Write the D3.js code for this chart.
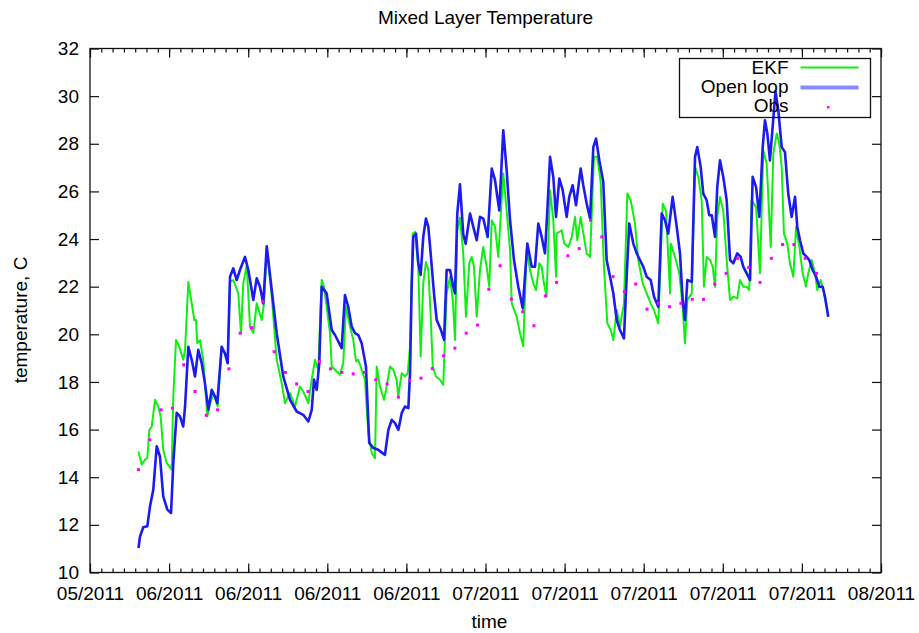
<!DOCTYPE html>
<html>
<head>
<meta charset="utf-8">
<script src="https://cdn.jsdelivr.net/npm/d3@7"></script>
<style>
  body { margin: 0; background: #fff; }
  text { font-family: "Liberation Sans", Arial, sans-serif; fill: #000; }
</style>
</head>
<body>
<div id="chart"></div>
<script>
// axis runs 70 days, weekly labelled ticks and daily minor ticks
const axisStart = new Date(Date.UTC(2011, 4, 27, 17));
const axisDays = 70;
const obsStart = new Date(Date.UTC(2011, 5, 1));

// [days after obsStart, temperature C]
const ekf = [
  [0.00, 15.08], [0.28, 14.53], [0.58, 14.74], [0.78, 14.80], [0.96, 15.99], [1.17, 16.13],
  [1.46, 17.25], [1.75, 16.97], [1.96, 16.55], [2.19, 15.15], [2.50, 14.60], [2.94, 14.32],
  [3.08, 17.39], [3.32, 19.76], [3.61, 19.48], [3.96, 18.93], [4.12, 19.35], [4.41, 22.20],
  [4.71, 21.30], [4.94, 20.60], [5.09, 20.60], [5.20, 19.63], [5.44, 19.76], [5.73, 18.93],
  [6.09, 16.55], [6.27, 16.97], [6.62, 17.53], [7.01, 16.97], [7.36, 19.48], [7.65, 19.20],
  [7.89, 18.79], [8.10, 22.20], [8.39, 22.28], [8.83, 21.72], [9.07, 20.05], [9.27, 22.14],
  [9.58, 22.90], [9.87, 20.32], [10.16, 20.05], [10.46, 21.30], [10.90, 20.60], [11.11, 21.30],
  [11.35, 23.60], [11.79, 21.60], [12.23, 18.93], [12.67, 17.95], [12.96, 17.11], [13.41, 17.53],
  [13.85, 16.97], [14.29, 17.81], [14.58, 17.60], [15.03, 17.11], [15.33, 18.10], [15.62, 18.93],
  [15.91, 18.51], [16.21, 22.28], [16.42, 22.00], [16.95, 20.05], [17.10, 18.65], [17.39, 18.51],
  [17.83, 18.30], [18.12, 18.79], [18.36, 21.16], [18.72, 20.32], [19.01, 19.76], [19.25, 18.86],
  [19.45, 18.93], [19.75, 18.51], [20.04, 18.09], [20.34, 15.85], [20.64, 15.01], [20.93, 14.80],
  [21.08, 18.65], [21.37, 17.81], [21.73, 17.25], [21.96, 17.81], [22.26, 18.65], [22.55, 18.51],
  [22.85, 18.09], [22.99, 17.39], [23.29, 18.37], [23.58, 18.23], [23.82, 18.37], [24.03, 19.50],
  [24.27, 24.23], [24.47, 24.30], [24.76, 22.84], [24.97, 19.07], [25.20, 22.14], [25.44, 23.04],
  [25.65, 22.70], [25.86, 20.74], [26.04, 18.65], [26.33, 18.23], [26.68, 18.09], [26.97, 17.88],
  [27.27, 21.72], [27.57, 22.42], [27.81, 21.44], [28.01, 19.76], [28.21, 24.37], [28.45, 24.90],
  [28.74, 23.40], [28.98, 20.74], [29.27, 22.98], [29.49, 23.25], [29.69, 22.84], [29.93, 20.74],
  [30.22, 22.70], [30.51, 23.67], [30.81, 22.84], [31.04, 22.00], [31.26, 24.79], [31.55, 24.51],
  [31.84, 23.25], [32.28, 26.75], [32.58, 25.20], [32.88, 23.54], [33.03, 21.30], [33.47, 20.74],
  [33.76, 20.05], [34.05, 19.50], [34.35, 23.54], [34.65, 22.70], [34.94, 22.14], [35.18, 21.86],
  [35.47, 22.98], [35.68, 22.84], [35.88, 22.14], [36.12, 21.58], [36.42, 26.05], [36.71, 24.79],
  [36.95, 22.42], [37.01, 24.23], [37.45, 24.37], [37.68, 23.81], [38.04, 23.67], [38.34, 24.09],
  [38.63, 24.93], [38.83, 23.95], [39.13, 24.93], [39.42, 24.09], [39.66, 23.40], [39.96, 23.25],
  [40.31, 27.45], [40.60, 27.45], [40.90, 26.40], [41.19, 22.84], [41.49, 20.46], [41.79, 20.18],
  [42.02, 19.76], [42.32, 21.02], [42.61, 20.32], [42.96, 21.30], [43.26, 25.91], [43.56, 25.63],
  [43.94, 24.65], [44.23, 23.12], [44.62, 22.14], [44.97, 21.72], [45.33, 21.30], [45.62, 21.02],
  [46.00, 20.46], [46.39, 25.49], [46.68, 25.20], [47.04, 21.72], [47.10, 23.81], [47.48, 23.25],
  [47.86, 22.56], [48.16, 21.16], [48.36, 19.63], [48.57, 21.44], [48.96, 21.72], [49.25, 27.03],
  [49.54, 26.61], [49.84, 25.63], [50.04, 22.00], [50.28, 23.25], [50.58, 23.12], [50.81, 22.84],
  [51.02, 22.00], [51.22, 24.93], [51.46, 25.77], [51.75, 25.20], [52.05, 23.12], [52.35, 21.44],
  [52.64, 21.58], [52.99, 21.51], [53.23, 22.28], [53.52, 22.00], [53.82, 22.00], [54.05, 21.86],
  [54.26, 25.63], [54.65, 25.35], [55.00, 22.56], [55.29, 27.73], [55.59, 27.17], [55.95, 23.67],
  [56.18, 27.59], [56.48, 28.43], [56.71, 28.01], [56.92, 27.03], [57.12, 24.23], [57.42, 23.81],
  [57.65, 22.98], [57.95, 22.42], [58.19, 24.51], [58.48, 23.67], [58.78, 22.56], [59.07, 22.00],
  [59.27, 22.56], [59.57, 23.12], [59.87, 22.56], [60.07, 21.86], [60.37, 22.28], [60.66, 21.72],
  [60.90, 21.16], [61.04, 20.74]
];

const openLoop = [
  [0.00, 11.03], [0.13, 11.50], [0.42, 11.90], [0.78, 11.94], [1.02, 12.78], [1.31, 13.48],
  [1.61, 15.30], [1.90, 14.87], [2.19, 13.20], [2.55, 12.64], [2.88, 12.50], [3.08, 14.60],
  [3.38, 16.70], [3.67, 16.55], [3.96, 16.13], [4.12, 16.97], [4.41, 19.48], [4.71, 18.93],
  [5.00, 18.23], [5.29, 19.35], [5.59, 18.79], [5.88, 17.95], [6.18, 16.83], [6.48, 17.67],
  [6.77, 17.39], [6.97, 17.11], [7.36, 19.48], [7.65, 19.20], [7.89, 18.79], [8.10, 22.42],
  [8.39, 22.77], [8.69, 22.28], [8.98, 22.70], [9.42, 23.25], [9.72, 22.70], [10.16, 21.44],
  [10.46, 22.35], [10.75, 22.00], [11.04, 21.30], [11.35, 23.70], [11.79, 21.86], [12.23, 20.05],
  [12.81, 18.23], [13.41, 17.25], [14.00, 16.76], [14.58, 16.62], [15.03, 16.34], [15.33, 16.83],
  [15.53, 18.10], [15.77, 17.67], [16.00, 18.79], [16.21, 22.00], [16.65, 21.72], [17.10, 20.18],
  [17.39, 19.97], [17.98, 19.42], [18.27, 21.65], [18.56, 21.16], [18.87, 20.32], [19.16, 20.05],
  [19.45, 19.97], [19.75, 19.63], [20.13, 18.65], [20.42, 15.44], [20.78, 15.23], [21.22, 15.15],
  [21.81, 14.94], [22.11, 15.99], [22.41, 16.41], [22.70, 16.27], [23.00, 15.99], [23.29, 16.69],
  [23.58, 16.97], [23.88, 16.90], [24.03, 18.37], [24.18, 22.14], [24.32, 24.09], [24.56, 24.23],
  [24.76, 22.98], [24.97, 22.49], [25.20, 24.09], [25.44, 24.86], [25.65, 24.51], [25.88, 23.25],
  [26.15, 21.72], [26.39, 20.60], [26.77, 20.18], [27.04, 19.77], [27.27, 22.70], [27.57, 22.70],
  [27.86, 22.00], [28.01, 21.72], [28.21, 25.07], [28.45, 26.30], [28.74, 24.20], [28.95, 23.80],
  [29.34, 25.07], [29.63, 24.51], [29.93, 23.95], [30.22, 24.93], [30.51, 24.86], [30.90, 24.09],
  [31.26, 26.96], [31.55, 26.47], [31.93, 25.20], [32.28, 28.57], [32.58, 26.89], [32.88, 24.79],
  [33.23, 23.12], [33.61, 22.00], [34.00, 21.09], [34.41, 23.81], [34.80, 22.84], [35.09, 22.84],
  [35.38, 24.65], [35.68, 24.09], [35.97, 23.40], [36.18, 25.20],
  [36.42, 27.45], [36.71, 26.60], [36.95, 24.93], [37.24, 26.54], [37.54, 26.05], [37.89, 24.93],
  [38.12, 25.77], [38.42, 26.26], [38.72, 25.42], [39.13, 26.96], [39.36, 26.26], [39.66, 25.49],
  [39.96, 24.86], [40.25, 27.86], [40.49, 28.22], [40.78, 27.31], [41.13, 26.40], [41.43, 23.12],
  [41.73, 22.42], [42.02, 21.72], [42.32, 20.60], [42.61, 20.18], [42.96, 19.83], [43.20, 22.42],
  [43.43, 24.65], [43.79, 23.81], [44.09, 23.40], [44.38, 23.12], [44.67, 22.84], [44.97, 22.42],
  [45.33, 22.28], [45.62, 21.58], [46.00, 21.16], [46.30, 25.07], [46.59, 24.79], [46.88, 24.23],
  [47.27, 25.77], [47.63, 24.51], [47.92, 23.40], [48.16, 21.44], [48.36, 20.60], [48.57, 22.28],
  [48.96, 22.20], [49.25, 27.45], [49.45, 27.86], [49.75, 27.03], [49.98, 25.91], [50.28, 25.63],
  [50.51, 25.00], [50.73, 25.00], [51.02, 24.09], [51.22, 26.19], [51.46, 27.31], [51.75, 26.61],
  [52.05, 25.63], [52.35, 23.12], [52.64, 22.98], [52.99, 23.40], [53.29, 23.25], [53.52, 22.84],
  [53.82, 22.56], [54.12, 22.28], [54.35, 26.61], [54.65, 26.19], [54.94, 24.93], [55.24, 27.86],
  [55.44, 28.99], [55.65, 28.43], [55.88, 27.30], [56.12, 28.71], [56.37, 30.20], [56.62, 29.40],
  [56.92, 27.86], [57.21, 27.65], [57.50, 25.91], [57.80, 24.93], [58.10, 25.77], [58.30, 24.51],
  [58.54, 23.95], [58.83, 23.40], [59.13, 23.25], [59.36, 23.12], [59.66, 22.70], [59.96, 22.42],
  [60.25, 22.00], [60.55, 22.00], [60.75, 21.58], [61.04, 20.74]
];

// daily observations from obsStart
const obs = [
  14.32, 15.57, 16.83, 16.90, 18.72, 17.60, 16.60, 16.83, 18.55, 20.05,
  20.28, 21.37, 19.27, 18.40, 17.92, 17.60, 18.86, 18.55, 18.40, 18.34,
  18.40, 18.09, 17.92, 17.36, 18.06, 18.16, 18.56, 19.10, 19.42, 20.05,
  20.39, 21.89, 22.88, 21.48, 20.95, 20.36, 21.61, 22.18, 23.30, 23.60,
  24.79, 24.09, 22.42, 21.79, 22.11, 21.06, 21.30, 21.16, 21.30, 21.47,
  21.47, 22.11, 22.56, 23.19, 22.81, 22.18, 23.19, 23.77, 23.77, 23.19,
  22.56
];

const yTicks = d3.range(10, 33, 2);

const width = 919, height = 633;
const margin = { top: 48.5, right: 38, bottom: 60.5, left: 90 };
const innerW = width - margin.left - margin.right;
const innerH = height - margin.top - margin.bottom;

const svg = d3.select('#chart')
  .append('svg')
  .attr('width', width)
  .attr('height', height);

svg.append('rect').attr('width', width).attr('height', height).attr('fill', '#fff');

const g = svg.append('g').attr('transform', `translate(${margin.left},${margin.top})`);

const x = d3.scaleUtc()
  .domain([axisStart, d3.utcDay.offset(axisStart, axisDays)])
  .range([0, innerW]);

const y = d3.scaleLinear()
  .domain([10, 32])
  .range([innerH, 0]);

const dayToDate = d => new Date(obsStart.getTime() + d * 864e5);

const majorTicks = d3.range(0, axisDays + 1, 7).map(d => d3.utcDay.offset(axisStart, d));
const minorTicks = d3.range(0, axisDays + 1).map(d => d3.utcDay.offset(axisStart, d));

// axes, ticks pointing inward on all four sides
const fmt = d3.utcFormat('%m/%Y');

g.append('g')
  .attr('transform', `translate(0,${innerH})`)
  .call(d3.axisBottom(x).tickValues(minorTicks).tickSizeInner(-4).tickSizeOuter(0).tickFormat(''));
g.append('g')
  .attr('class', 'xaxis')
  .attr('transform', `translate(0,${innerH})`)
  .call(d3.axisBottom(x).tickValues(majorTicks).tickSizeInner(-9).tickSizeOuter(0).tickPadding(14).tickFormat(fmt));
g.append('g')
  .call(d3.axisTop(x).tickValues(minorTicks).tickSizeInner(-4).tickSizeOuter(0).tickFormat(''));
g.append('g')
  .call(d3.axisTop(x).tickValues(majorTicks).tickSizeInner(-9).tickSizeOuter(0).tickFormat(''));
g.append('g')
  .attr('class', 'yaxis')
  .call(d3.axisLeft(y).tickValues(yTicks).tickSizeInner(-9).tickSizeOuter(0).tickPadding(11));
g.append('g')
  .attr('transform', `translate(${innerW},0)`)
  .call(d3.axisRight(y).tickValues(yTicks).tickSizeInner(-9).tickSizeOuter(0).tickFormat(''));

g.selectAll('.domain').remove();
g.selectAll('.tick line').attr('stroke', '#111').attr('stroke-width', 1.2);
g.selectAll('.tick text').attr('font-size', 19).attr('fill', '#000');

g.append('rect')
  .attr('width', innerW)
  .attr('height', innerH)
  .attr('fill', 'none')
  .attr('stroke', '#111')
  .attr('stroke-width', 1.3);

// legend (transparent box, the curves run over it)
const legend = svg.append('g').attr('transform', 'translate(679.5,58.5)');
legend.append('rect')
  .attr('width', 191)
  .attr('height', 59)
  .attr('fill', 'none')
  .attr('stroke', '#111')
  .attr('stroke-width', 1.3);

const legendItems = ['EKF', 'Open loop', 'Obs'];
legend.selectAll('text.lab')
  .data(legendItems)
  .join('text')
  .attr('class', 'lab')
  .attr('x', 109)
  .attr('y', (d, i) => 15.5 + i * 19)
  .attr('text-anchor', 'end')
  .attr('font-size', 19)
  .text(d => d);

legend.append('line')
  .attr('x1', 121).attr('x2', 179)
  .attr('y1', 9).attr('y2', 9)
  .attr('stroke', '#11ee11').attr('stroke-width', 2);
legend.append('line')
  .attr('x1', 121).attr('x2', 179)
  .attr('y1', 29).attr('y2', 29)
  .attr('stroke', '#8a8aff').attr('stroke-width', 4);
legend.append('rect')
  .attr('x', 147.5).attr('y', 47.5)
  .attr('width', 2.5).attr('height', 2.5)
  .attr('fill', '#ff00ff');

// series
const line = d3.line()
  .x(d => x(dayToDate(d[0])))
  .y(d => y(d[1]));

g.append('path')
  .datum(ekf)
  .attr('fill', 'none')
  .attr('stroke', '#11ee11')
  .attr('stroke-width', 2)
  .attr('stroke-linejoin', 'round')
  .attr('d', line);

g.append('path')
  .datum(openLoop)
  .attr('fill', 'none')
  .attr('stroke', '#1c1cf0')
  .attr('stroke-width', 2.6)
  .attr('stroke-linejoin', 'round')
  .attr('d', line);

g.selectAll('rect.obs')
  .data(obs)
  .join('rect')
  .attr('class', 'obs')
  .attr('x', (d, i) => x(d3.utcDay.offset(obsStart, i)) - 1.5)
  .attr('y', d => y(d) - 1.5)
  .attr('width', 3)
  .attr('height', 3)
  .attr('fill', '#ff00ff');

// titles
svg.append('text')
  .attr('x', margin.left + innerW / 2)
  .attr('y', 24)
  .attr('text-anchor', 'middle')
  .attr('font-size', 19)
  .text('Mixed Layer Temperature');

svg.append('text')
  .attr('x', margin.left + innerW / 2 + 4)
  .attr('y', 628)
  .attr('text-anchor', 'middle')
  .attr('font-size', 19)
  .text('time');

svg.append('text')
  .attr('transform', 'translate(27,320) rotate(-90)')
  .attr('text-anchor', 'middle')
  .attr('font-size', 19)
  .text('temperature, C');
</script>
</body>
</html>
